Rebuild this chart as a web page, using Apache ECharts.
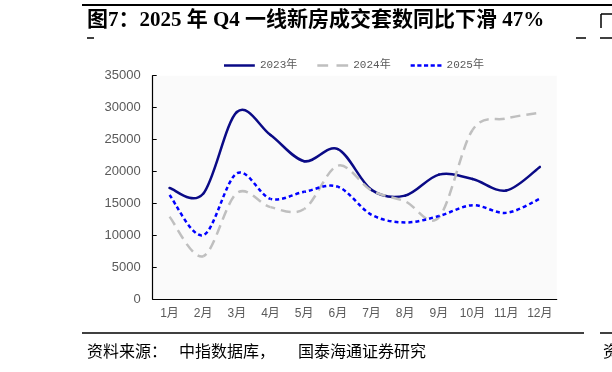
<!DOCTYPE html>
<html>
<head>
<meta charset="utf-8">
<script src="https://cdn.jsdelivr.net/npm/echarts@6/dist/echarts.min.js"></script>
<style>
html,body{margin:0;padding:0;background:#fff;}
#c{width:612px;height:372px;}
</style>
</head>
<body>
<div id="c"></div>
<script>
var months = ['1月','2月','3月','4月','5月','6月','7月','8月','9月','10月','11月','12月'];
var s2023 = [17400, 16500, 29300, 25700, 21600, 23500, 17100, 16200, 19500, 18800, 17000, 20700];
var s2024 = [12900, 6700, 16600, 14400, 14100, 20900, 17000, 15300, 12800, 26500, 28300, 29200];
var s2025 = [16300, 10000, 19700, 15700, 16800, 17600, 13200, 12000, 13000, 14700, 13500, 15700];
var seriesNames = ['2023年', '2024年', '2025年'];
var yTicks = {min: 0, max: 35000, interval: 5000};

var chart = echarts.init(document.getElementById('c'), null, {renderer: 'canvas'});
var cjk = '"Noto Sans CJK SC", sans-serif';

// Excel-like smoothed line: cubic Bezier segments through the data points (positions via api.coord)
function bezPoint(c, t) {
  var u = 1 - t;
  return [u*u*u*c.x1 + 3*u*u*t*c.cpx1 + 3*u*t*t*c.cpx2 + t*t*t*c.x2,
          u*u*u*c.y1 + 3*u*u*t*c.cpy1 + 3*u*t*t*c.cpy2 + t*t*t*c.y2];
}
function bezLen(c) {
  var len = 0, prev = [c.x1, c.y1];
  for (var s = 1; s <= 30; s++) {
    var p = bezPoint(c, s / 30);
    len += Math.sqrt((p[0]-prev[0])*(p[0]-prev[0]) + (p[1]-prev[1])*(p[1]-prev[1]));
    prev = p;
  }
  return len;
}
function makeRender(values, color, width, dash) {
  return function (params, api) {
    var i = params.dataIndex, n = values.length;
    if (i >= n - 1) return null;
    var P = values.map(function (v, j) { return api.coord([j, v]); });
    function g(j) { return P[Math.max(0, Math.min(n - 1, j))]; }
    function seg(k) {
      var a = g(k-1), b = g(k), c = g(k+1), d = g(k+2);
      return {x1: b[0], y1: b[1], x2: c[0], y2: c[1],
        cpx1: b[0] + (c[0]-a[0]) / 6, cpy1: b[1] + (c[1]-a[1]) / 6,
        cpx2: c[0] - (d[0]-b[0]) / 6, cpy2: c[1] - (d[1]-b[1]) / 6};
    }
    var off = 0;
    for (var k = 0; k < i; k++) off += bezLen(seg(k));
    return {
      type: 'bezierCurve', shape: seg(i),
      style: {stroke: color, fill: 'none', lineWidth: width, lineDash: dash || null,
        lineDashOffset: off, lineCap: dash ? 'butt' : 'round'}
    };
  };
}
function curveSeries(name, values, color, width, dash) {
  return {
    name: name, type: 'custom', silent: true,
    itemStyle: {color: color},
    encode: {x: 0, y: 1},
    data: values.map(function (v, j) { return [j, v]; }),
    renderItem: makeRender(values, color, width, dash)
  };
}

chart.setOption({
  animation: false,
  backgroundColor: '#ffffff',
  grid: {left: 152.7, right: 55.3, top: 75.7, bottom: 73, show: true, backgroundColor: '#fafafa', borderWidth: 0},
  legend: {
    left: 219, top: 55, itemWidth: 37, itemHeight: 2.5, itemGap: 20,
    data: [
      {name: seriesNames[0], icon: 'path://M0,0H37V3H0Z'},
      {name: seriesNames[1], icon: 'path://M0,0H13V3H0Z M23,0H37V3H23Z'},
      {name: seriesNames[2], icon: 'path://M0,0H5V3H0Z M8,0H13V3H8Z M16,0H21V3H16Z M24,0H29V3H24Z M32,0H37V3H32Z'}
    ],
    textStyle: {fontSize: 11, color: '#595959', fontFamily: '"Liberation Mono", "Noto Sans CJK SC", monospace', padding: [0,0,0,-3]}
  },
  xAxis: {
    type: 'category', data: months, boundaryGap: true,
    axisLine: {lineStyle: {color: '#000', width: 1.2}},
    axisTick: {inside: true, length: 4, lineStyle: {color: '#000'}},
    axisLabel: {color: '#595959', fontSize: 12, margin: 9, fontFamily: '"Liberation Sans", ' + cjk}
  },
  yAxis: {
    type: 'value', min: yTicks.min, max: yTicks.max, interval: yTicks.interval,
    axisLine: {show: true, lineStyle: {color: '#000', width: 1.2}},
    axisTick: {show: true, inside: true, length: 4, lineStyle: {color: '#000'}},
    splitLine: {show: false},
    axisLabel: {color: '#595959', fontSize: 13, margin: 12, fontFamily: '"Liberation Sans", sans-serif',
      formatter: function (v) { return String(v); }}
  },
  series: [
    curveSeries(seriesNames[0], s2023, '#0a0a86', 2.5, null),
    curveSeries(seriesNames[1], s2024, '#bfbfbf', 2.5, [10, 6]),
    curveSeries(seriesNames[2], s2025, '#0000ff', 2.5, [4, 3])
  ],
  graphic: [
    {type: 'line', shape: {x1: 82, y1: 5, x2: 612, y2: 5}, style: {stroke: '#000', lineWidth: 2}},
    {type: 'text', left: 87, top: 10, style: {text: '图7：2025 年 Q4 一线新房成交套数同比下滑 47%', fill: '#000',
      font: 'bold 21px "Liberation Serif", "Noto Sans CJK SC", serif'}},
    {type: 'line', shape: {x1: 87, y1: 38, x2: 94, y2: 38}, style: {stroke: '#000', lineWidth: 1.5}},
    {type: 'line', shape: {x1: 576, y1: 38, x2: 586, y2: 38}, style: {stroke: '#000', lineWidth: 1.5}},
    {type: 'line', shape: {x1: 600, y1: 38, x2: 612, y2: 38}, style: {stroke: '#000', lineWidth: 1.5}},
    {type: 'line', shape: {x1: 601, y1: 14, x2: 601, y2: 28}, style: {stroke: '#000', lineWidth: 1.5}},
    {type: 'line', shape: {x1: 601, y1: 14, x2: 612, y2: 14}, style: {stroke: '#000', lineWidth: 1.5}},
    {type: 'line', shape: {x1: 82, y1: 333, x2: 584, y2: 333}, style: {stroke: '#000', lineWidth: 1.5}},
    {type: 'line', shape: {x1: 600, y1: 333, x2: 612, y2: 333}, style: {stroke: '#000', lineWidth: 1.5}},
    {type: 'text', left: 87, top: 343, style: {text: '资料来源：', fill: '#000', font: '16px ' + cjk}},
    {type: 'text', left: 179, top: 343, style: {text: '中指数据库，', fill: '#000', font: '16px ' + cjk}},
    {type: 'text', left: 298, top: 343, style: {text: '国泰海通证券研究', fill: '#000', font: '16px ' + cjk}},
    {type: 'text', left: 603, top: 343, style: {text: '资', fill: '#000', font: '16px ' + cjk}}
  ]
});
</script>
</body>
</html>
